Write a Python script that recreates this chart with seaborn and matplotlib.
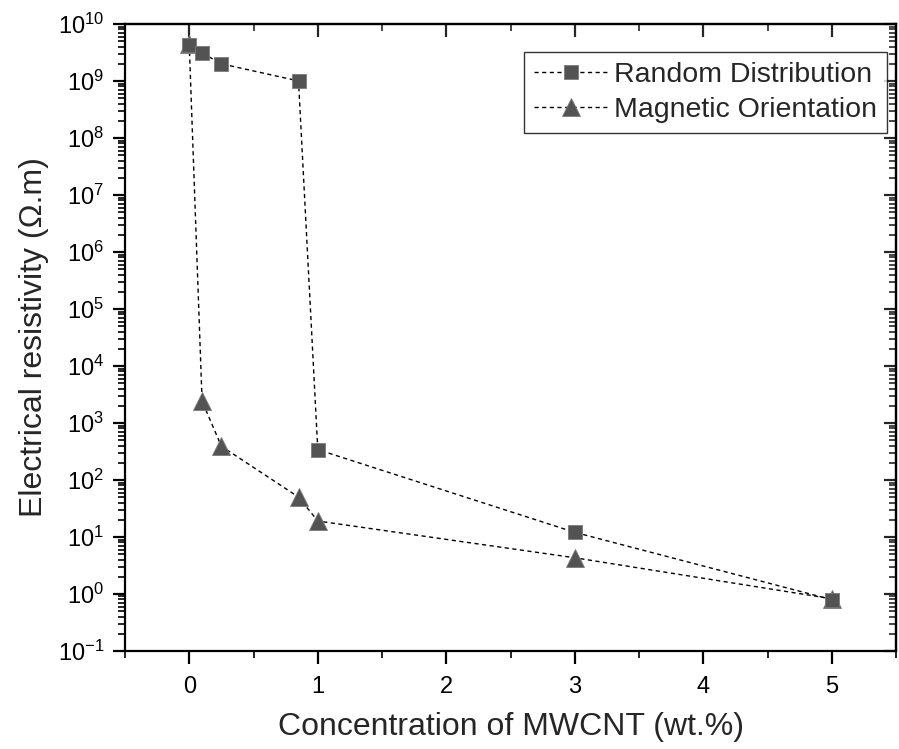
import numpy as np
import pandas as pd
import matplotlib
matplotlib.use("Agg")
import matplotlib.pyplot as plt
import seaborn as sns
from matplotlib.ticker import LogLocator, MultipleLocator, NullFormatter

# Data
conc_random = [0.0, 0.1, 0.25, 0.85, 1.0, 3.0, 5.0]
res_random = [4.2e9, 3.1e9, 2.0e9, 1.0e9, 340.0, 12.0, 0.79]
conc_magnetic = [0.0, 0.1, 0.25, 0.85, 1.0, 3.0, 5.0]
res_magnetic = [4.4e9, 2400.0, 390.0, 50.0, 19.0, 4.3, 0.82]
series_names = ["Random Distribution", "Magnetic Orientation"]
x_ticks = [0, 1, 2, 3, 4, 5]

sns.set_theme(style="ticks")
plt.rcParams["font.family"] = ["Liberation Sans", "DejaVu Sans"]
plt.rcParams["mathtext.fontset"] = "custom"
plt.rcParams["mathtext.rm"] = "Liberation Sans"

fig = plt.figure(figsize=(8.99, 7.49), dpi=100)
ax = fig.add_axes([0.139, 0.131, 0.858, 0.837])

df_r = pd.DataFrame({"x": conc_random, "y": res_random})
df_m = pd.DataFrame({"x": conc_magnetic, "y": res_magnetic})

common = dict(color="black", linewidth=1.0, linestyle=(0, (3, 2.5)),
              markerfacecolor="#535353", markeredgecolor="#7a7a7a",
              markeredgewidth=0.6)
sns.lineplot(data=df_m, x="x", y="y", marker="^", markersize=12.5,
             label=series_names[1], ax=ax, legend=False, **common)
sns.lineplot(data=df_r, x="x", y="y", marker="s", markersize=10,
             label=series_names[0], ax=ax, legend=False, **common)

ax.set_yscale("log")
ax.set_xlim(-0.5, 5.5)
ax.set_ylim(1e-1, 1e10)
ax.set_xticks(x_ticks)
ax.xaxis.set_minor_locator(MultipleLocator(0.5))
ax.yaxis.set_major_locator(LogLocator(base=10, numticks=20))
ax.yaxis.set_minor_locator(LogLocator(base=10, subs=np.arange(2, 10), numticks=20))
ax.yaxis.set_minor_formatter(NullFormatter())

for sp in ax.spines.values():
    sp.set_linewidth(1.6)
    sp.set_color("black")

ax.tick_params(which="major", direction="out", length=9, width=1.6,
               labelsize=17, colors="black", pad=6)
ax.tick_params(which="minor", direction="out", length=5, width=1.2, colors="black")
ax.tick_params(axis="x", which="major", pad=9)

# mirrored ticks pointing inward on top and right
secx = ax.secondary_xaxis("top")
secx.set_xticks(x_ticks)
secx.xaxis.set_minor_locator(MultipleLocator(0.5))
secx.tick_params(which="major", direction="in", length=9, width=1.6, labeltop=False)
secx.tick_params(which="minor", direction="in", length=5, width=1.2)
secx.spines["top"].set_linewidth(1.6)

secy = ax.secondary_yaxis("right")
secy.yaxis.set_major_locator(LogLocator(base=10, numticks=20))
secy.yaxis.set_minor_locator(LogLocator(base=10, subs=np.arange(2, 10), numticks=20))
secy.tick_params(which="major", direction="in", length=9, width=1.6, labelright=False)
secy.tick_params(which="minor", direction="in", length=5, width=1.2, labelright=False)
secy.yaxis.set_minor_formatter(NullFormatter())
secy.spines["right"].set_linewidth(1.6)

ax.set_xlabel("Concentration of MWCNT (wt.%)", fontsize=23, labelpad=10)
ax.set_ylabel("Electrical resistivity (Ω.m)", fontsize=23, labelpad=6)

handles, labels = ax.get_legend_handles_labels()
order = [labels.index(n) for n in series_names]
leg = ax.legend([handles[i] for i in order], [labels[i] for i in order],
                loc="upper right", bbox_to_anchor=(0.988, 0.955),
                borderaxespad=0, fontsize=20.5, frameon=True, fancybox=False,
                handlelength=2.6, handletextpad=0.2, borderpad=0.35,
                labelspacing=0.3)
leg.get_frame().set_edgecolor("black")
leg.get_frame().set_linewidth(1.0)

fig.savefig("out.png", dpi=100)
